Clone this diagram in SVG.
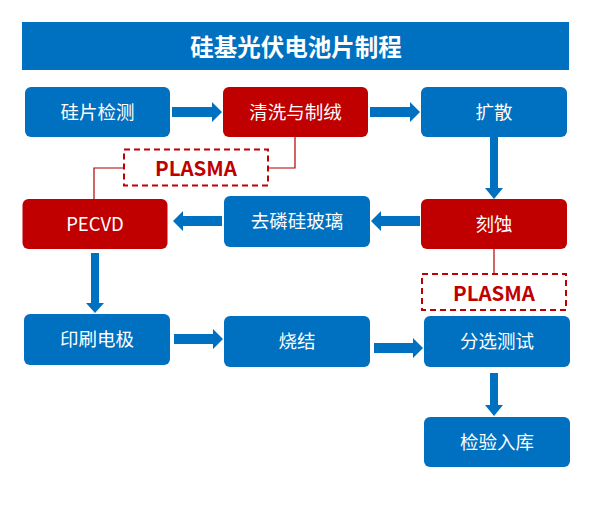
<svg xmlns="http://www.w3.org/2000/svg" width="594" height="519" viewBox="0 0 594 519">
<defs>
<style>
.blue{fill:#0070C0}
.red{fill:#C00000}
.lbl{font-family:"Noto Sans CJK SC","Noto Sans",sans-serif;font-size:18.5px;fill:#fff;text-anchor:middle;dominant-baseline:central}
.title{font-family:"Noto Sans CJK SC","Noto Sans",sans-serif;font-size:23.5px;font-weight:bold;fill:#fff;text-anchor:middle;dominant-baseline:central}
.pl{font-family:"Noto Sans CJK SC","Noto Sans",sans-serif;font-size:20.5px;font-weight:bold;fill:#C00000;text-anchor:middle;dominant-baseline:central}
.dash{fill:#fff;stroke:#C00000;stroke-width:2;stroke-dasharray:6 4}
.thin{fill:none;stroke:#B00000;stroke-width:1.2}
.arr{fill:#0070C0}
</style>
</defs>
<rect width="594" height="519" fill="#fff"/>
<g id="title">
<rect x="22" y="22" width="547" height="48" class="blue"/>
<text x="296" y="45.5" class="title">硅基光伏电池片制程</text>
</g>
<g id="connectors">
<polygon class="arr" points="172,107 212,107 212,102 222,112 212,122 212,117 172,117"/>
<polygon class="arr" points="370,107 410,107 410,102 420,112 410,122 410,117 370,117"/>
<polygon class="arr" points="490,137 498,137 498,188 503,188 494,199 485,188 490,188"/>
<polygon class="arr" points="420,216 381,216 381,211 371,221 381,231 381,226 420,226"/>
<polygon class="arr" points="222,216 183,216 183,211 173,221 183,231 183,226 222,226"/>
<polygon class="arr" points="91,253 99,253 99,303 104,303 95,313 86,303 91,303"/>
<polygon class="arr" points="174,334 213,334 213,329 223,339 213,349 213,344 174,344"/>
<polygon class="arr" points="374,343 413,343 413,338 423,348 413,358 413,353 374,353"/>
<polygon class="arr" points="490,373 498,373 498,405 503,405 494,416 485,405 490,405"/>
<polyline class="thin" points="295,137 295,168 268,168"/>
<polyline class="thin" points="124,168 94,168 94,199"/>
<line class="thin" x1="494" y1="249" x2="494" y2="274"/>
</g>
<g id="n1"><rect x="25" y="87" width="145" height="50" rx="6" class="blue"/><text x="97.5" y="110.5" class="lbl">硅片检测</text></g>
<g id="n2"><rect x="223" y="87" width="145" height="50" rx="6" class="red"/><text x="295.5" y="110.5" class="lbl">清洗与制绒</text></g>
<g id="n3"><rect x="421" y="87" width="146" height="50" rx="6" class="blue"/><text x="494" y="110.5" class="lbl">扩散</text></g>
<g id="p1"><rect x="124" y="149.5" width="144" height="36" class="dash"/><text x="196" y="167" class="pl">PLASMA</text></g>
<g id="n4"><rect x="22.5" y="199" width="145" height="50" rx="6" class="red"/><text x="95" y="223" class="lbl">PECVD</text></g>
<g id="n5"><rect x="224" y="196" width="146" height="51" rx="6" class="blue"/><text x="297" y="220" class="lbl">去磷硅玻璃</text></g>
<g id="n6"><rect x="421" y="199" width="146" height="50" rx="6" class="red"/><text x="494" y="223" class="lbl">刻蚀</text></g>
<g id="p2"><rect x="422" y="274" width="144" height="36" class="dash"/><text x="494" y="291.5" class="pl">PLASMA</text></g>
<g id="n7"><rect x="24" y="314" width="146" height="51" rx="6" class="blue"/><text x="97" y="338" class="lbl">印刷电极</text></g>
<g id="n8"><rect x="224" y="316" width="146" height="51" rx="6" class="blue"/><text x="297" y="340" class="lbl">烧结</text></g>
<g id="n9"><rect x="424" y="316" width="146" height="51" rx="6" class="blue"/><text x="497" y="340" class="lbl">分选测试</text></g>
<g id="n10"><rect x="424" y="417" width="146" height="50" rx="6" class="blue"/><text x="497" y="441" class="lbl">检验入库</text></g>
</svg>
